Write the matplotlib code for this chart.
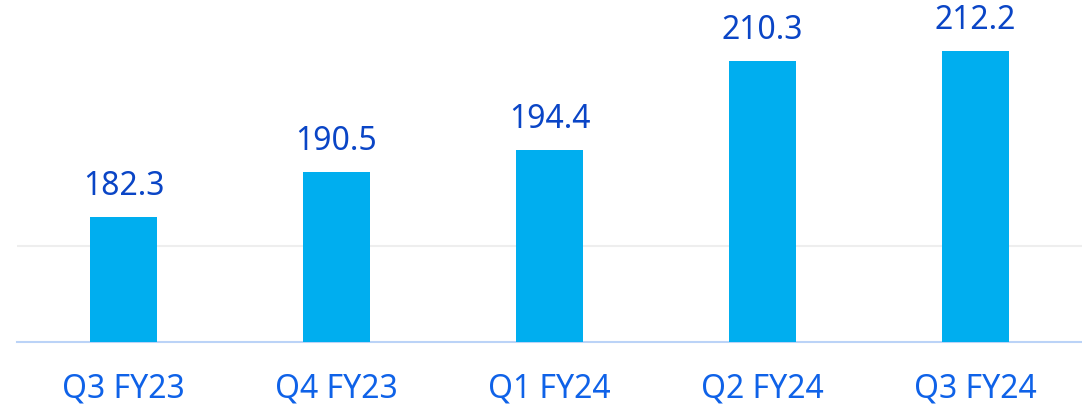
import matplotlib.pyplot as plt

# === DATA ===
quarters = ["Q3 FY23", "Q4 FY23", "Q1 FY24", "Q2 FY24", "Q3 FY24"]
values = [182.3, 190.5, 194.4, 210.3, 212.2]

bar_color = "#00AEEF"
value_color = "#0A45C6"
label_color = "#0F62E8"

plt.rcParams['font.family'] = ['Noto Sans', 'DejaVu Sans']

fig = plt.figure(figsize=(10.82, 4.07), dpi=100)
ax = fig.add_axes([17 / 1082, 1 - 341.5 / 407, 1 - 17 / 1082, 341.5 / 407])

x = range(len(quarters))
bars = ax.bar(x, values, width=0.315, color=bar_color, zorder=3)

ax.set_xlim(-0.5, len(quarters) - 0.5)
ax.set_ylim(160, 221.3)

# single light gridline
ax.axhline(177.2, color="#EEEEEE", linewidth=1.5, zorder=1)

for spine in ["top", "right", "left"]:
    ax.spines[spine].set_visible(False)
ax.spines["bottom"].set_color("#BBD3F7")
ax.spines["bottom"].set_linewidth(1.5)

ax.set_yticks([])
ax.set_xticks(list(x))
ax.set_xticklabels(quarters, fontsize=23, color=label_color)
ax.tick_params(axis="x", length=0, pad=22)

for rect, v in zip(bars, values):
    ax.annotate(f"{v:.1f}", (rect.get_x() + rect.get_width() / 2, v),
                xytext=(0, 10), textcoords="offset points",
                ha="center", va="bottom", fontsize=23, color=value_color)

fig.savefig("out.png", dpi=100)
